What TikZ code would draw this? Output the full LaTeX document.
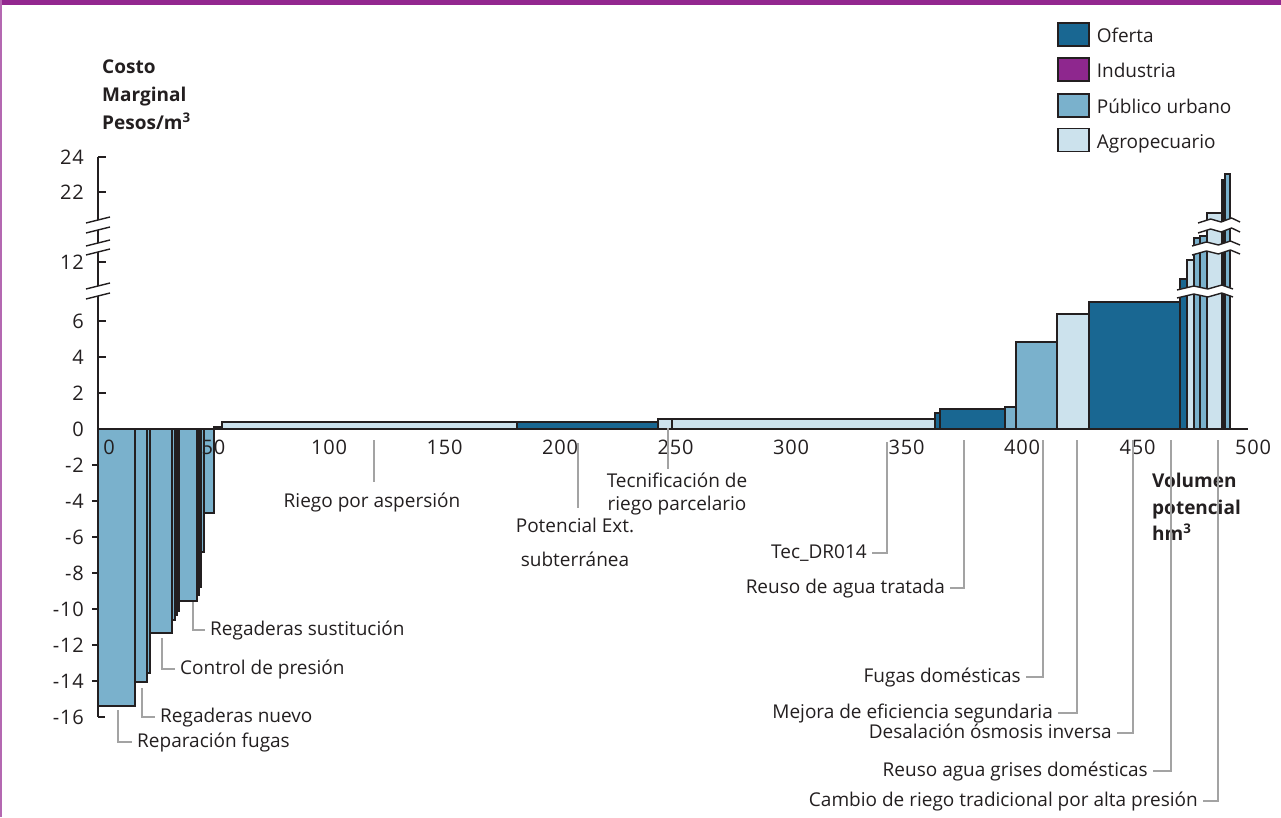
\documentclass[tikz,border=0pt]{standalone}
\usepackage{fontspec}
\setmainfont{Open Sans}
\newfontfamily\cifras[LetterSpace=4]{Open Sans}
\usetikzlibrary{calc,positioning}
\definecolor{oferta}{HTML}{196792}
\definecolor{industria}{HTML}{8E278E}
\definecolor{publico}{HTML}{7AB1CC}
\definecolor{agro}{HTML}{CCE2ED}
\definecolor{marco}{HTML}{93278F}
\definecolor{guia}{HTML}{A3A3A3}
\definecolor{tinta}{HTML}{231F20}
\def\zeroy{429}
\def\costbar[#1](#2:#3:#4){\filldraw[#1] (#2,\zeroy) rectangle (#3,#4);}
\tikzset{
	barra/.style={draw=tinta, line width=1.2pt},
	eje/.style={draw=tinta, line width=1.3pt},
	corte/.style={draw=tinta, line width=1.4pt},
	leader/.style={draw=guia, line width=1.2pt, shorten >=3pt},
	lbl/.style={text=tinta, font=\fontsize{19}{22}\selectfont, inner sep=2pt, text height=13pt, text depth=3pt},
	num/.style={lbl, font=\fontsize{20}{22}\selectfont\cifras},
	titulo/.style={lbl, font=\fontsize{19}{22}\selectfont\bfseries},
	legbox/.style={draw=tinta, line width=1.2pt, minimum width=31pt, minimum height=23pt, inner sep=0pt},
}
\begin{document}
\begin{tikzpicture}[x=1pt,y=-1pt]
		%%%%% MARCO %%%%%
		\useasboundingbox (0,0) rectangle (1281,817);
		\fill[marco] (0,0) rectangle (1281,5);
		\draw[marco!70, line width=2pt] (1,0) -- (1,817);
		
		%%%%% MARCAS NEGATIVAS (bajo las barras) %%%%%
		\foreach \yy in {465,501,537,573,609,645,681}
			\draw[eje] (92,\yy) -- (104,\yy);
		
		%%%%% BARRAS NEGATIVAS %%%%%
		\costbar[barra,fill=publico](98:135:706)
		\costbar[barra,fill=publico](135:147:682)
		\costbar[barra,fill=publico](147:150:673)
		\costbar[barra,fill=publico](150:172:633)
		\costbar[barra,fill=publico](172:175:620)
		\costbar[barra,fill=tinta](175:177:615)
		\costbar[barra,fill=tinta](177:179:611)
		\costbar[barra,fill=publico](179:197:601)
		\costbar[barra,fill=tinta](197:199:595)
		\costbar[barra,fill=tinta](199:201:587)
		\costbar[barra,fill=publico](201:204:552)
		\costbar[barra,fill=publico](204:214:513)
		
		%%%%% BARRAS POSITIVAS %%%%%
		\costbar[barra,fill=oferta](214:222:427)
		\costbar[barra,fill=agro](222:517:422)
		\costbar[barra,fill=oferta](517:658:422)
		\costbar[barra,fill=agro](658:672:419)
		\costbar[barra,fill=agro](672:935:419)
		\costbar[barra,fill=oferta](935:940:413)
		\costbar[barra,fill=oferta](940:1005:409)
		\costbar[barra,fill=publico](1005:1016:407)
		\costbar[barra,fill=publico](1016:1057:342)
		\costbar[barra,fill=agro](1057:1089:314)
		\costbar[barra,fill=oferta](1089:1180:302)
		\costbar[barra,fill=oferta](1180:1187:279)
		\costbar[barra,fill=agro](1187:1194:260)
		\costbar[barra,fill=publico](1194:1200:238)
		\costbar[barra,fill=publico](1200:1207:236)
		\costbar[barra,fill=agro](1207:1222:213)
		\costbar[barra,fill=tinta](1222:1225:180)
		\costbar[barra,fill=publico](1225:1230:174)
		
		%%%%% CORTES DE LAS BARRAS %%%%%
		\foreach \xa/\xb/\ya/\yb in {1198/1240/220/230, 1192/1240/243/252, 1177/1233/287/295} {
			\fill[white] (\xa-2,\ya+3) -- ({\xa+0.3*(\xb-\xa)},\ya-1) -- ({\xa+0.55*(\xb-\xa)},\ya+2) -- ({\xa+0.8*(\xb-\xa)},\ya-2) -- (\xb+2,\ya+2)
				-- (\xb+2,\yb+2) -- ({\xa+0.8*(\xb-\xa)},\yb-2) -- ({\xa+0.55*(\xb-\xa)},\yb+2) -- ({\xa+0.3*(\xb-\xa)},\yb-1) -- (\xa-2,\yb+3) -- cycle;
			\draw[corte] (\xa,\ya+3) -- ({\xa+0.3*(\xb-\xa)},\ya-1) -- ({\xa+0.55*(\xb-\xa)},\ya+2) -- ({\xa+0.8*(\xb-\xa)},\ya-2) -- (\xb,\ya+2);
			\draw[corte] (\xa,\yb+3) -- ({\xa+0.3*(\xb-\xa)},\yb-1) -- ({\xa+0.55*(\xb-\xa)},\yb+2) -- ({\xa+0.8*(\xb-\xa)},\yb-2) -- (\xb,\yb+2);
		}
		
		%%%%% EJES %%%%%
		\draw[eje] (98,157) -- (98,220);
		\draw[eje] (98,230) -- (98,243);
		\draw[eje] (98,252) -- (98,286);
		\draw[eje] (98,296) -- (98,717);
		\foreach \yc in {220,230,243,252,286,296}
			\draw[corte] (86,\yc+3) -- (110,\yc-3);
		\foreach \yy in {157,192,262,321,357,393}
			\draw[eje] (98,\yy) -- (106,\yy);
		\draw[eje] (98,717) -- (105,717);
		\draw[eje] (98,429) -- (1248,429);
		
		\foreach \v/\yy in {24/157,22/192,12/262,6/321,4/357,2/393,0/429,-2/465,-4/501,-6/537,-8/573,-10/609,-12/645,-14/681,-16/717}
			\node[num, anchor=east] (yt\v) at (86,\yy+2) {\v};
		\node[num] (xt0) at (109,449) {0};
		\foreach \v in {50,100,...,500}
			\node[num] (xt\v) at ({98+2.31*\v},449) {\v};
		
		\node[titulo, anchor=base west] (cm1) at (100,73) {Costo};
		\node[titulo, anchor=base west] (cm2) at (100,101) {Marginal};
		\node[titulo, anchor=base west] (cm3) at (100,129) {Pesos/m\textsuperscript{3}};
		\node[titulo, anchor=base west] (vp1) at (1150,487) {Volumen};
		\node[titulo, anchor=base west] (vp2) at (1150,514) {potencial};
		\node[titulo, anchor=base west] (vp3) at (1150,540) {hm\textsuperscript{3}};
		
		%%%%% ETIQUETAS %%%%%
		\coordinate (rep-top) at (118,710);
		\coordinate (nue-top) at (142,688);
		\coordinate (con-top) at (162,638);
		\coordinate (sus-top) at (193,602);
		\node[lbl, anchor=west] (rep) at (135,742) {Reparación fugas};
		\node[lbl, anchor=west] (nue) at (158,717) {Regaderas nuevo};
		\node[lbl, anchor=west] (con) at (178,669) {Control de presión};
		\node[lbl, anchor=west] (sus) at (208,630) {Regaderas sustitución};
		\draw[leader] (rep-top) |- (rep.west);
		\draw[leader] (nue-top) |- (nue.west);
		\draw[leader] (con-top) |- (con.west);
		\draw[leader] (sus-top) |- (sus.west);
		
		\coordinate (asp-top) at (374,440);
		\coordinate (pot-top) at (578,443);
		\coordinate (tec-top) at (668,428);
		\node[lbl] (asp) at (372,502) {Riego por aspersión};
		\node[lbl] (pot1) at (575,527) {Potencial Ext.};
		\node[lbl] (pot2) at (575,561) {subterránea};
		\node[lbl] (tec1) at (677,482) {Tecnificación de};
		\node[lbl] (tec2) at (677,505) {riego parcelario};
		\draw[leader, shorten >=10pt] (asp-top) -- (asp-top |- asp.north);
		\draw[leader, shorten >=9pt] (pot-top) -- (pot-top |- pot1.north);
		\draw[leader] (tec-top) -- (tec-top |- tec1.north);
		
		\coordinate (tdr-top) at (887,442);
		\coordinate (rat-top) at (964,440);
		\coordinate (fug-top) at (1043,440);
		\coordinate (mej-top) at (1077,440);
		\coordinate (des-top) at (1133,440);
		\coordinate (gri-top) at (1171,440);
		\coordinate (cam-top) at (1218,440);
		\node[lbl, anchor=east] (tdr) at (869,553) {Tec\_DR014};
		\node[lbl, anchor=east] (rat) at (947,588) {Reuso de agua tratada};
		\node[lbl, anchor=east] (fug) at (1023,677) {Fugas domésticas};
		\node[lbl, anchor=east] (mej) at (1055,713) {Mejora de eficiencia segundaria};
		\node[lbl, anchor=east] (des) at (1114,733) {Desalación ósmosis inversa};
		\node[lbl, anchor=east] (gri) at (1150,771) {Reuso agua grises domésticas};
		\node[lbl, anchor=east] (cam) at (1200,801) {Cambio de riego tradicional por alta presión};
		\draw[leader] (tdr-top) |- (tdr.east);
		\draw[leader] (rat-top) |- (rat.east);
		\draw[leader] (fug-top) |- (fug.east);
		\draw[leader] (mej-top) |- (mej.east);
		\draw[leader] (des-top) |- (des.east);
		\draw[leader] (gri-top) |- (gri.east);
		\draw[leader] (cam-top) |- (cam.east);
		
		%%%%% LEYENDA %%%%%
		\node[legbox, fill=oferta] (lg1) at (1073.5,34.5) {};
		\node[legbox, fill=industria] (lg2) at (1073.5,69.5) {};
		\node[legbox, fill=publico] (lg3) at (1073.5,105.5) {};
		\node[legbox, fill=agro] (lg4) at (1073.5,140) {};
		\node[lbl, right=5pt of lg1, yshift=-3pt] (lg1t) {Oferta};
		\node[lbl, right=5pt of lg2, yshift=-3pt] (lg2t) {Industria};
		\node[lbl, right=5pt of lg3, yshift=-3pt] (lg3t) {Público urbano};
		\node[lbl, right=5pt of lg4, yshift=-3pt] (lg4t) {Agropecuario};
\end{tikzpicture}
\end{document}
